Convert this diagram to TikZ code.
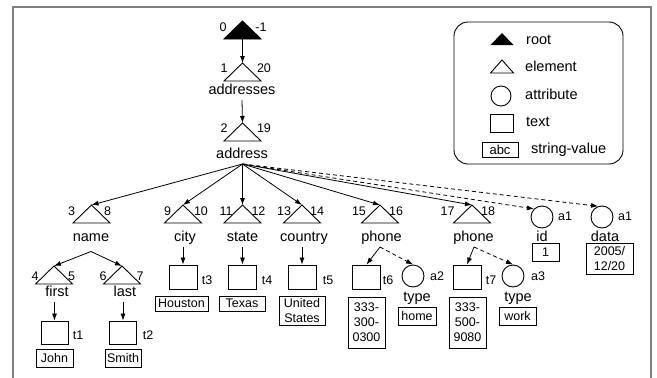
\documentclass[tikz,border=0pt]{standalone}
\usepackage{fontspec}
\setmainfont{Liberation Sans}
\usetikzlibrary{arrows.meta}
\begin{document}
\begin{tikzpicture}[x=1pt,y=-1pt,
 every node/.style={inner sep=0pt},
 lbl/.style={font=\fontsize{14.5}{17}\selectfont, text height=10.5pt, text depth=3pt, minimum height=18pt},
 num/.style={font=\fontsize{12.5}{15}\selectfont},
 tbox/.style={draw, line width=0.9pt, minimum width=27pt, minimum height=23pt},
 sval/.style={draw, line width=0.9pt, font=\fontsize{12.5}{15}\selectfont, align=center},
 attr/.style={draw, circle, line width=0.9pt, minimum size=22pt},
 arr/.style={-{Latex[length=7pt,width=5pt]}, line width=0.8pt},
 darr/.style={arr, dash pattern=on 4pt off 3pt},
 tri/.style={draw, line width=0.9pt},
]
\useasboundingbox (0,0) rectangle (657,378);
\clip (0,0) rectangle (657,378);
\newcommand\eltri[4][]{\coordinate (#2) at (#3,#4); \draw[tri,#1] (#2) -- ++(-18.5,18) -- ++(37,0) -- cycle;}
% frame
\draw[line width=1.8pt, black!50] (13,7) rectangle (651,400);

% triangles
\eltri[fill=black]{troot}{242.5}{21}
\eltri{taddresses}{242.5}{63}
\eltri{taddress}{242.5}{123}
\eltri{tname}{91.5}{205}
\eltri{tcity}{183}{205}
\eltri{tstate}{242.5}{205}
\eltri{tcountry}{302}{205}
\eltri{tphone1}{380}{205}
\eltri{tphone2}{472}{205}
\eltri{tfirst}{54}{266}
\eltri{tlast}{122}{266}

% number labels
\node[num] (n0) at (223,27) {0};
\node[num] (nm1) at (261,27) {-1};
\node[num] (n1) at (224,68) {1};
\node[num] (n20) at (264,68) {20};
\node[num] (n2) at (224,128) {2};
\node[num] (n19) at (264,128) {19};
\node[num] (n3) at (71.5,211) {3};
\node[num] (n8) at (107.5,211) {8};
\node[num] (n9) at (167.5,211) {9};
\node[num] (n10) at (201,211) {10};
\node[num] (n11) at (226,211) {11};
\node[num] (n12) at (258.5,211) {12};
\node[num] (n13) at (284,211) {13};
\node[num] (n14) at (317,211) {14};
\node[num] (n15) at (359,211) {15};
\node[num] (n16) at (396,211) {16};
\node[num] (n17) at (447.5,211) {17};
\node[num] (n18) at (488,211) {18};
\node[num] (n4) at (35,276) {4};
\node[num] (n5) at (71.5,276) {5};
\node[num] (n6) at (103,276) {6};
\node[num] (n7) at (140,276) {7};

% names
\node[lbl] (naddresses) at (242,91) {addresses};
\node[lbl] (naddress) at (242,155) {address};
\node[lbl] (nname) at (91,238) {name};
\node[lbl] (ncity) at (185,238) {city};
\node[lbl] (nstate) at (242.5,238) {state};
\node[lbl] (ncountry) at (304,238) {country};
\node[lbl] (nphone1) at (381.5,238) {phone};
\node[lbl] (nphone2) at (473.5,238) {phone};
\node[lbl] (nid) at (542,238) {id};
\node[lbl] (ndata) at (605,238) {data};
\node[lbl] (nfirst) at (57,293) {first};
\node[lbl] (nlast) at (125,293) {last};
\node[lbl] (ntype1) at (417,298) {type};
\node[lbl] (ntype2) at (518,298) {type};

% attributes
\node[attr] (aid) at (542,217) {};
\node[attr] (adata) at (602,217) {};
\node[attr] (a2) at (413,276) {};
\node[attr] (a3) at (513,276) {};
\node[num] (la1) at (565,216) {a1};
\node[num] (la1b) at (625,216) {a1};
\node[num] (la2) at (437,276) {a2};
\node[num] (la3) at (538,276) {a3};

% text boxes
\node[tbox] (t1) at (54.5,332.5) {};
\node[tbox] (t2) at (123,332.5) {};
\node[tbox, minimum width=28pt, minimum height=24pt] (t3) at (183,277) {};
\node[tbox, minimum width=28pt, minimum height=24pt] (t4) at (242.5,277) {};
\node[tbox, minimum width=28pt, minimum height=24pt] (t5) at (302,277) {};
\node[tbox, minimum width=28pt, minimum height=24pt] (t6) at (366.5,277) {};
\node[tbox, minimum width=28pt, minimum height=24pt] (t7) at (467,277) {};
\node[num] (lt1) at (78,335) {t1};
\node[num] (lt2) at (148,335) {t2};
\node[num] (lt3) at (207,280) {t3};
\node[num] (lt4) at (267,280) {t4};
\node[num] (lt5) at (328,280) {t5};
\node[num] (lt6) at (388,280) {t6};
\node[num] (lt7) at (491,280) {t7};

% string values
\node[sval, minimum width=37pt, minimum height=18pt] (sjohn) at (54.5,358) {John};
\node[sval, minimum width=36pt, minimum height=18pt] (ssmith) at (123,358) {Smith};
\node[sval, minimum width=53pt, minimum height=15pt] (shouston) at (181.5,303.5) {Houston};
\node[sval, minimum width=46pt, minimum height=15pt] (stexas) at (242,303.5) {Texas};
\node[sval, minimum width=46pt, minimum height=29pt] (sus) at (302,310.5) {United\\States};
\node[sval, minimum width=37pt, minimum height=51pt] (sph1) at (366.5,322.5) {333-\\300-\\0300};
\node[sval, minimum width=38pt, minimum height=18pt] (shome) at (417,316) {home};
\node[sval, minimum width=37pt, minimum height=51pt] (sph2) at (467.5,322.5) {333-\\500-\\9080};
\node[sval, minimum width=37pt, minimum height=18pt] (swork) at (517.5,316) {work};
\node[sval, minimum width=27pt, minimum height=18pt] (sone) at (545.5,252) {1};
\node[sval, minimum width=47pt, minimum height=31pt] (sdate) at (609.5,258.5) {2005/\\12/20};

% connectors
\coordinate (rootb) at (242.5,39);
\draw[arr] (rootb) -- (taddresses);
\draw[arr] (naddresses.south) -- (taddress);
\coordinate (addrfan) at (242.5,164);
\draw[arr] (addrfan) -- (tname);
\draw[arr] (addrfan) -- (tcity);
\draw[arr] (addrfan) -- (tstate);
\draw[arr] (addrfan) -- (tcountry);
\draw[arr] (addrfan) -- (tphone1);
\draw[arr] (addrfan) -- (tphone2);
\draw[darr] (addrfan) -- (aid.north west);
\draw[darr] (addrfan) -- (adata.110);
\coordinate (namefan) at (91,251.5);
\draw[arr] (namefan) -- (tfirst);
\draw[arr] (namefan) -- (tlast);
\draw[arr] (nfirst.south -| t1.north) -- (t1.north);
\draw[arr] (nlast.south -| t2.north) -- (t2.north);
\draw[arr] (ncity.south -| t3.north) -- (t3.north);
\draw[arr] (nstate.south -| t4.north) -- (t4.north);
\draw[arr] (ncountry.south -| t5.north) -- (t5.north);
\coordinate (ph1fan) at (380,247);
\coordinate (ph2fan) at (474,247);
\draw[arr] (ph1fan) -- (t6.north);
\draw[darr] (ph1fan) -- (a2.north);
\draw[arr] (ph2fan) -- (t7.north);
\draw[darr] (ph2fan) -- (a3.north);

% legend
\draw[line width=0.9pt, rounded corners=14pt] (454,22) rectangle (623,164);
\coordinate (lroot) at (502,33);
\fill (lroot) -- ++(-11.5,12) -- ++(23,0) -- cycle;
\coordinate (lelem) at (502,60);
\draw[tri] (lelem) -- ++(-11.5,13) -- ++(23,0) -- cycle;
\node[attr, minimum size=20pt] (lattr) at (501,96) {};
\node[tbox, minimum width=23pt, minimum height=18pt] (ltext) at (501.5,123) {};
\node[sval, minimum width=36pt, minimum height=15pt, font=\fontsize{13}{15}\selectfont] (labc) at (500,149.5) {abc};
\node[lbl, anchor=west] (lgroot) at (526,41) {root};
\node[lbl, anchor=west] (lgelem) at (525,68) {element};
\node[lbl, anchor=west] (lgattr) at (525,96) {attribute};
\node[lbl, anchor=west] (lgtext) at (526,123) {text};
\node[lbl, anchor=west] (lgsv) at (531,150) {string-value};
\end{tikzpicture}
\end{document}
